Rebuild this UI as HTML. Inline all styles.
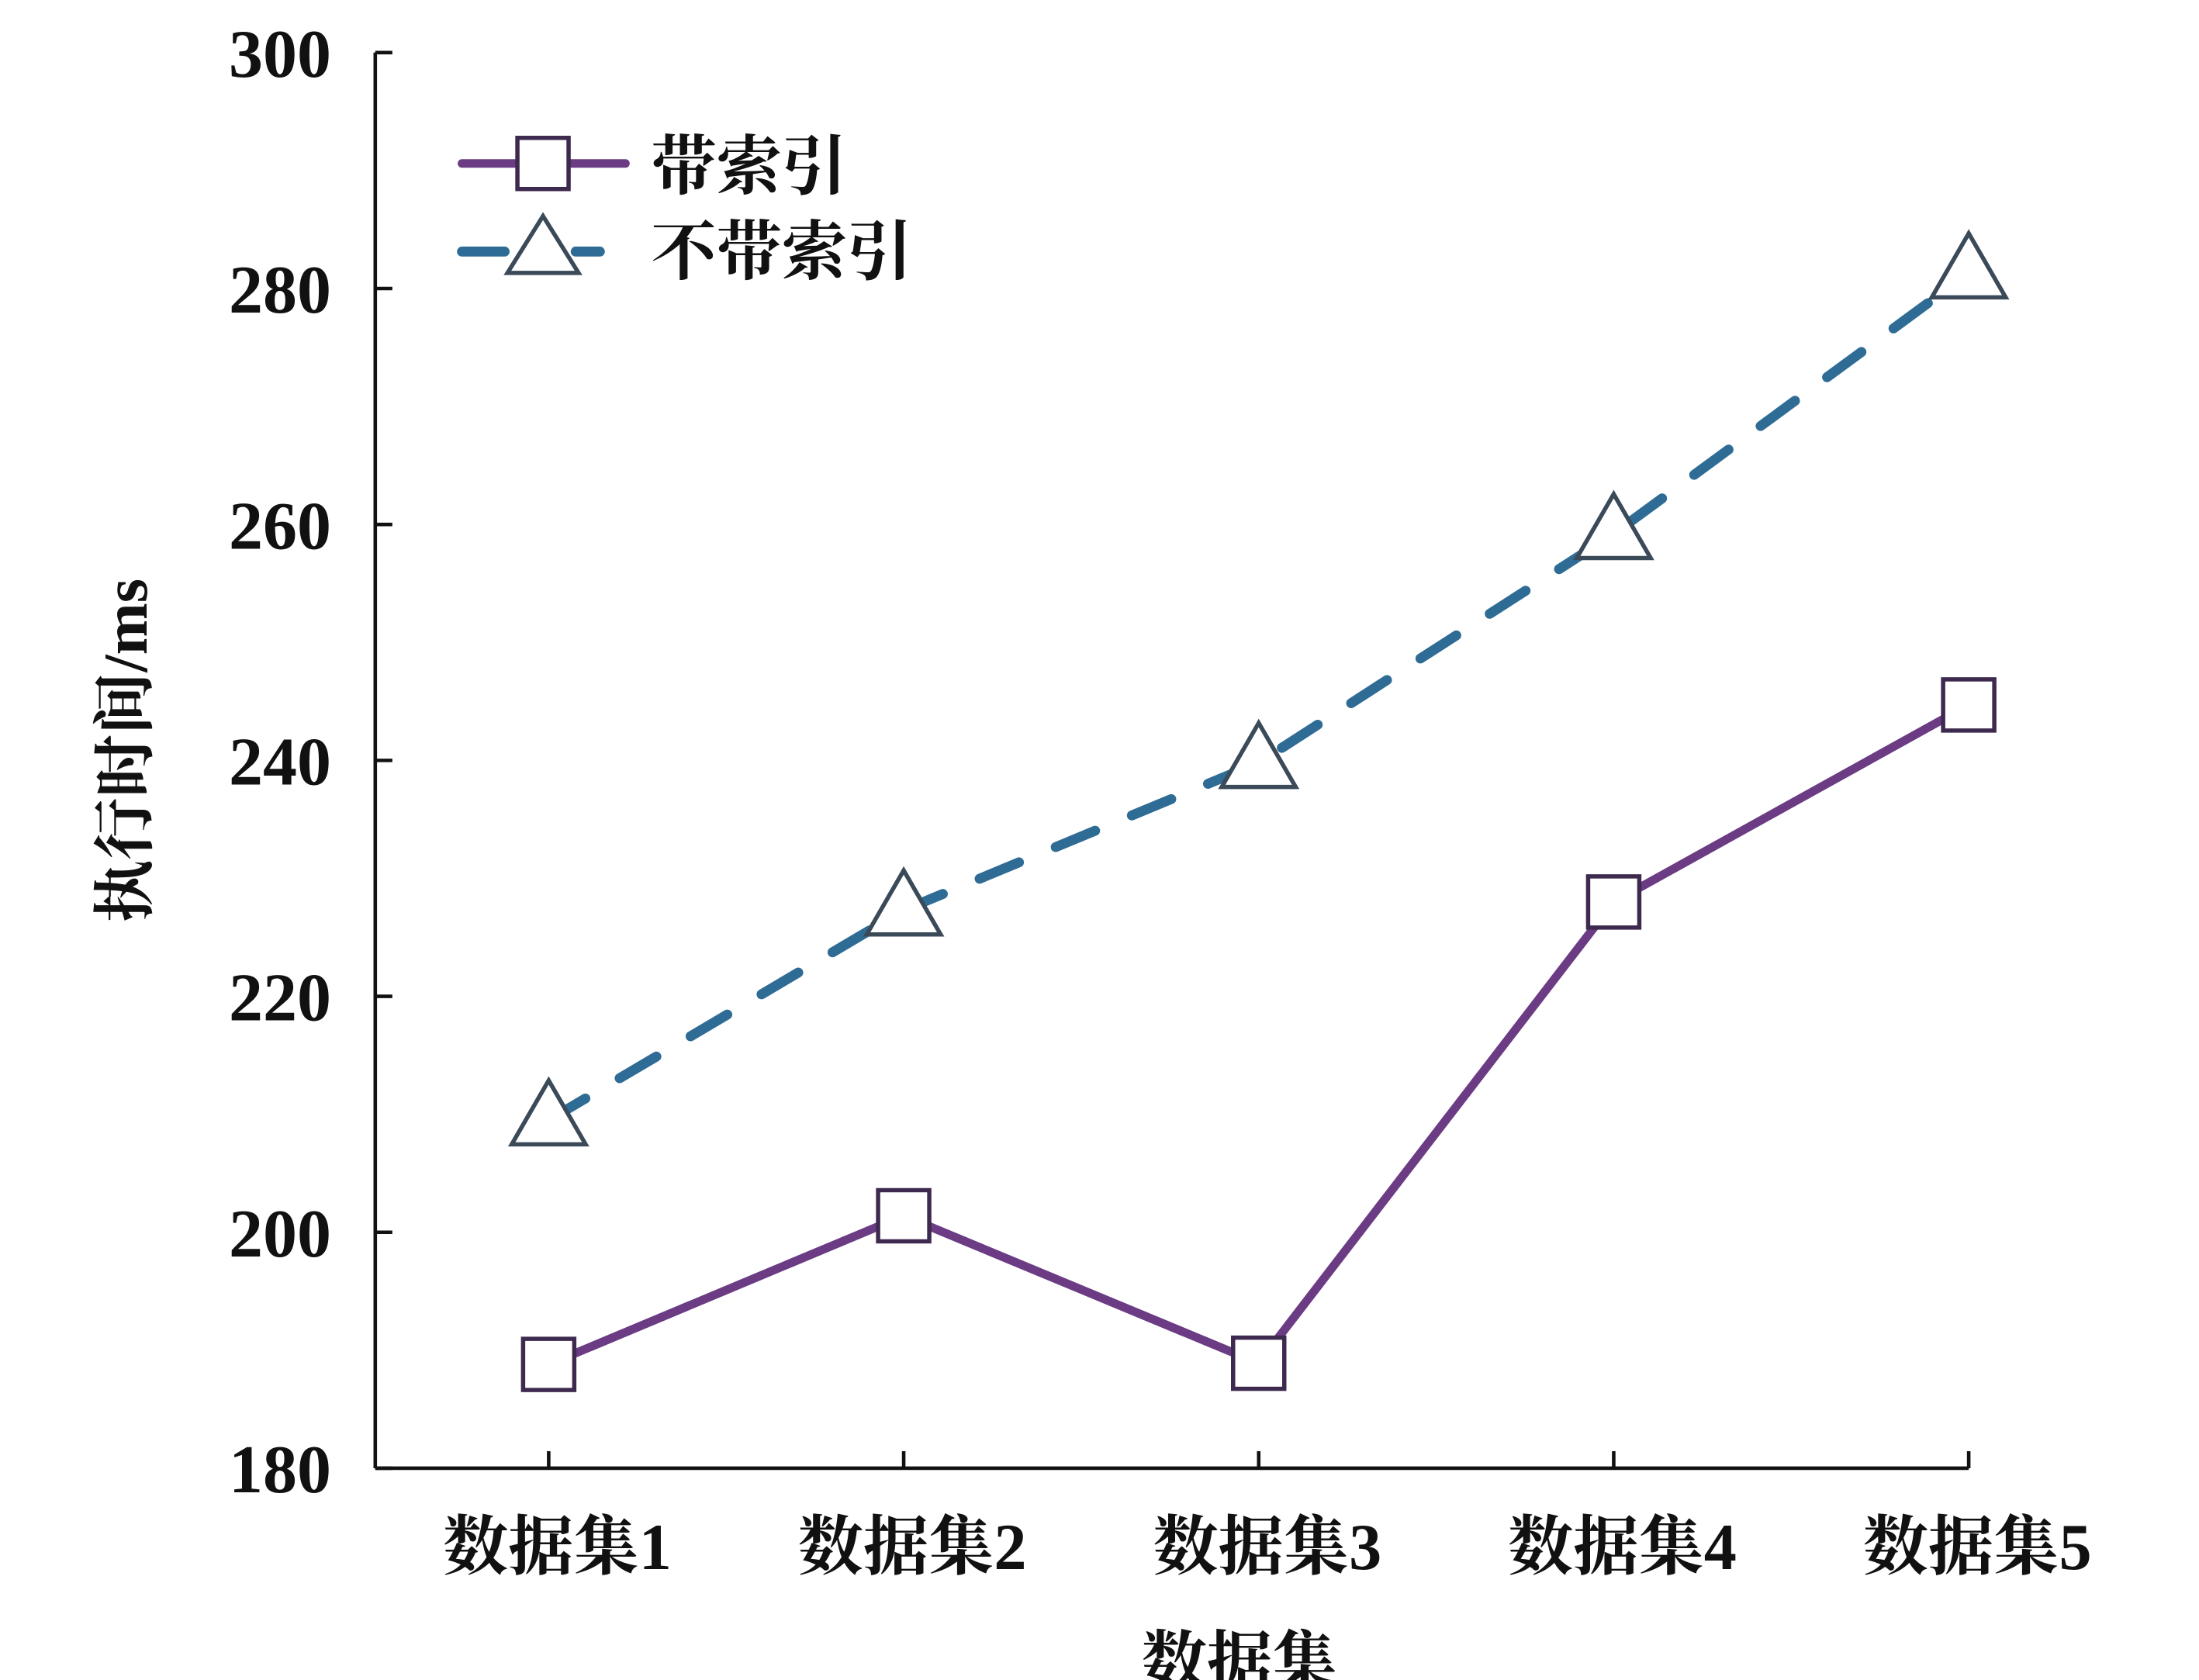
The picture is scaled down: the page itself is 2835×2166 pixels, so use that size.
<!DOCTYPE html>
<html><head><meta charset="utf-8"><style>
html,body{margin:0;padding:0;background:#fff;}
svg{display:block;}
text{font-family:"Liberation Serif","Noto Serif CJK SC",serif;fill:#111;}
</style></head><body>
<svg id="chart" width="2835" height="2166" viewBox="0 0 1547 1182" preserveAspectRatio="none" xmlns="http://www.w3.org/2000/svg">
<g id="axes"></g>
<g id="series"></g>
<g id="legend">
  <line x1="325" y1="115" x2="440" y2="115" stroke="#6b3b84" stroke-width="6" stroke-linecap="round"/>
  <rect x="364" y="97" width="36" height="36" fill="#fff" stroke="#3e2a4f" stroke-width="3"/>
  <text x="458" y="133" font-size="46" font-weight="bold">带索引</text>
  <line x1="325" y1="177" x2="355" y2="177" stroke="#2f6c95" stroke-width="7" stroke-linecap="round"/>
  <line x1="405" y1="177" x2="422" y2="177" stroke="#2f6c95" stroke-width="7" stroke-linecap="round"/>
  <polygon points="382,152 357,192 407,192" fill="#fff" stroke="#3b4a58" stroke-width="3"/>
  <text x="458" y="193" font-size="46" font-weight="bold">不带索引</text>
</g>
</svg>
<script>
const categories=["数据集1","数据集2","数据集3","数据集4","数据集5"];
const withIndex=[188.8,201.4,188.9,228.0,244.7];
const withoutIndex=[209.5,227.3,239.8,259.2,281.3];
const yTicks=[180,200,220,240,260,280,300];
const NS="http://www.w3.org/2000/svg";
const x0=264,x1=1385,yTop=37,yBot=1033,yMin=180,yMax=300;
const firstX=386,stepX=249.75;
function xs(i){return firstX+i*stepX;}
function ys(v){return yBot-(v-yMin)/(yMax-yMin)*(yBot-yTop);}
function mk(tag,attrs,parent){const e=document.createElementNS(NS,tag);for(const k in attrs)e.setAttribute(k,attrs[k]);parent.appendChild(e);return e;}
const ax=document.getElementById('axes');
let a=mk('line',{x1:x0,y1:yTop,x2:x0,y2:yBot,stroke:'#111','stroke-width':2.5},ax);


a=mk('line',{x1:x0,y1:yBot,x2:x1,y2:yBot,stroke:'#111','stroke-width':2.5},ax);


yTicks.forEach(v=>{
  mk('line',{x1:x0,y1:ys(v),x2:x0+12,y2:ys(v),stroke:'#111','stroke-width':2.5},ax);
  const t=mk('text',{x:233,y:ys(v)+17,'font-size':48,'font-weight':'bold','text-anchor':'end'},ax);
  t.textContent=v;
  
  
});
categories.forEach((c,i)=>{
  mk('line',{x1:xs(i),y1:yBot,x2:xs(i),y2:yBot-12,stroke:'#111','stroke-width':2.5},ax);
  const t=mk('text',{x:xs(i)+6,y:1104,'font-size':46,'font-weight':'bold','text-anchor':'middle'},ax);
  t.textContent=c;
  
  
});
let t=mk('text',{x:872,y:1185,'font-size':46,'font-weight':'bold','text-anchor':'middle'},ax);
t.textContent='数据集';


t=mk('text',{x:0,y:0,'font-size':44,'font-weight':'bold','text-anchor':'middle',transform:'translate(103,528) rotate(-90)'},ax);
t.textContent='执行时间/ms';


const sg=document.getElementById('series');
let p=mk('polyline',{points:withoutIndex.map((v,i)=>xs(i)+','+ys(v)).join(' '),fill:'none',stroke:'#2f6c95','stroke-width':7,'stroke-dasharray':'30,28','stroke-linecap':'round'},sg);


p=mk('polyline',{points:withIndex.map((v,i)=>xs(i)+','+ys(v)).join(' '),fill:'none',stroke:'#6b3b84','stroke-width':6},sg);


withoutIndex.forEach((v,i)=>{
  const cx=xs(i),cy=ys(v);
  const m=mk('polygon',{points:`${cx},${cy-28} ${cx-26},${cy+17} ${cx+26},${cy+17}`,fill:'#fff',stroke:'#3b4a58','stroke-width':3},sg);
  
  
});
withIndex.forEach((v,i)=>{
  const cx=xs(i),cy=ys(v);
  const m=mk('rect',{x:cx-18,y:cy-18,width:36,height:36,fill:'#fff',stroke:'#3e2a4f','stroke-width':3},sg);
  
  
});
</script>
</body></html>
